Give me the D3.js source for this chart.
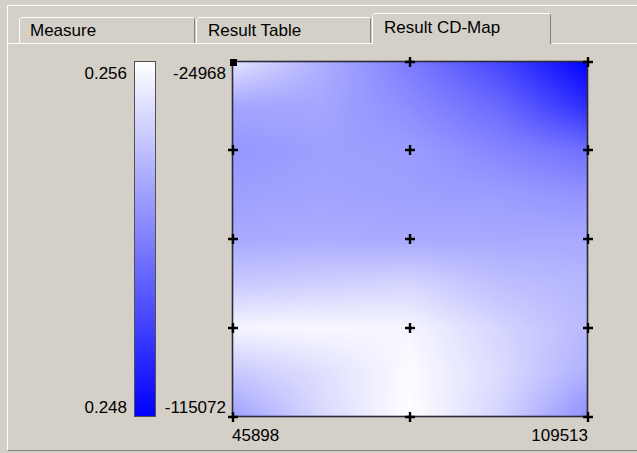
<!DOCTYPE html>
<html><head><meta charset="utf-8">
<script src="https://cdn.jsdelivr.net/npm/d3@7"></script>
<style>
html,body{margin:0;padding:0;background:#d4d0c8;overflow:hidden;}
svg{display:block;}
text{font-family:"Liberation Sans",Arial,sans-serif;font-size:17px;fill:#000;}
</style></head>
<body>
<svg id="chart" width="637" height="453"></svg>
<script>
// ---- data ----
const tabs = ["Measure", "Result Table", "Result CD-Map"];
const colorDomain = [0.248, 0.256];
const colorLabels = ["0.256", "0.248"];
const xDomain = [45898, 109513];
const yDomain = [-24968, -115072];
const xLabels = ["45898", "109513"];
const yLabels = ["-24968", "-115072"];
// grid sample positions
const gridX = [45898, 61801.75, 77705.5, 93609.25, 109513];
const gridY = [-24968, -36231, -47494, -58757, -70020, -81283, -92546, -103809, -115072];
// measured points (crosses)
const pointX = [45898, 77705.5, 109513];
const pointY = [-24968, -47494, -70020, -92546, -115072];
// values on grid (rows top->bottom, cols left->right)
const row0 = [0.2552, 0.2535, 0.2519, 0.2502, 0.2480];
const row1 = [0.2532, 0.2532, 0.2524, 0.2513, 0.2494];
const row2 = [0.2527, 0.2530, 0.2529, 0.2522, 0.2515];
const row3 = [0.2530, 0.2531, 0.2530, 0.2529, 0.2526];
const row4 = [0.2533, 0.2534, 0.2533, 0.2533, 0.2533];
const row5 = [0.2543, 0.2545, 0.2547, 0.2540, 0.2537];
const row6 = [0.2557, 0.2558, 0.2557, 0.2547, 0.2538];
const row7 = [0.2543, 0.2550, 0.2559, 0.2549, 0.2535];
const row8 = [0.2530, 0.2548, 0.2560, 0.2547, 0.2525];
const grid = [row0, row1, row2, row3, row4, row5, row6, row7, row8];

// ---- drawing ----
const svg = d3.select("#chart");
const W = 637, H = 453;

// outer frame
svg.append("line").attr("x1", 7.5).attr("x2", W).attr("y1", 5.5).attr("y2", 5.5).attr("stroke", "#ffffff");
svg.append("line").attr("x1", 7.5).attr("x2", 7.5).attr("y1", 5.5).attr("y2", 451).attr("stroke", "#ffffff");
svg.append("line").attr("x1", 7.5).attr("x2", W).attr("y1", 450.5).attr("y2", 450.5).attr("stroke", "#808080");

// tabs
const tabDefs = [
  {x0: 19, x1: 196, top: 17, textX: 30, base: 36},
  {x0: 196, x1: 372, top: 17, textX: 208, base: 36},
  {x0: 372, x1: 552, top: 13, textX: 384, base: 33}
];
svg.append("line").attr("x1", 7.5).attr("x2", 372.5).attr("y1", 43.5).attr("y2", 43.5).attr("stroke", "#ffffff");
svg.append("line").attr("x1", 552).attr("x2", W).attr("y1", 43.5).attr("y2", 43.5).attr("stroke", "#ffffff");
tabDefs.forEach((t, i) => {
  const g = svg.append("g");
  const bottom = i === 2 ? 44 : 43;
  g.append("rect").attr("x", t.x0).attr("y", t.top).attr("width", t.x1 - t.x0).attr("height", bottom - t.top).attr("fill", "#d4d0c8");
  g.append("path").attr("d", `M${t.x0 + 0.5},${bottom}V${t.top + 2.5}l2,-2H${t.x1 - 2.5}`).attr("fill", "none").attr("stroke", "#ffffff");
  g.append("path").attr("d", `M${t.x1 - 1.5},${t.top + 1.5}V${bottom}`).attr("fill", "none").attr("stroke", "#808080");
  g.append("text").attr("x", t.textX).attr("y", t.base).text(tabs[i]);
});

// scales
const x0 = 232.5, x1 = 587.5, y0 = 61.5, y1 = 416.5;
const xScale = d3.scaleLinear().domain(xDomain).range([x0, x1]);
const yScale = d3.scaleLinear().domain(yDomain).range([y0, y1]);
const color = d3.scaleLinear().domain(colorDomain).range(["#0000ff", "#ffffff"]).clamp(true);

// heat map raster (bilinear shading between grid samples)
const mw = Math.round(x1 - x0), mh = Math.round(y1 - y0);
const canvas = document.createElement("canvas");
canvas.width = mw; canvas.height = mh;
const ctx = canvas.getContext("2d");
const img = ctx.createImageData(mw, mh);
const gx = d3.scaleLinear().domain(gridX.map(v => xScale(v) - x0)).range(d3.range(gridX.length)).clamp(true);
const gy = d3.scaleLinear().domain(gridY.map(v => yScale(v) - y0)).range(d3.range(gridY.length)).clamp(true);
for (let py = 0; py < mh; py++) {
  const fy = gy(py + 0.5);
  const r = Math.min(Math.floor(fy), gridY.length - 2), ty = fy - r;
  for (let px = 0; px < mw; px++) {
    const fx = gx(px + 0.5);
    const c = Math.min(Math.floor(fx), gridX.length - 2), tx = fx - c;
    const v = (grid[r][c] * (1 - tx) + grid[r][c + 1] * tx) * (1 - ty) +
              (grid[r + 1][c] * (1 - tx) + grid[r + 1][c + 1] * tx) * ty;
    const col = d3.rgb(color(v));
    const k = (py * mw + px) * 4;
    img.data[k] = col.r; img.data[k + 1] = col.g; img.data[k + 2] = col.b; img.data[k + 3] = 255;
  }
}
ctx.putImageData(img, 0, 0);
svg.append("image").attr("x", x0).attr("y", y0).attr("width", mw).attr("height", mh)
  .attr("preserveAspectRatio", "none").attr("href", canvas.toDataURL());

// map border
svg.append("rect").attr("x", x0).attr("y", y0).attr("width", x1 - x0).attr("height", y1 - y0)
  .attr("fill", "none").attr("stroke", "#2a2a3a").attr("stroke-width", 1.6);

// crosses
const pts = [];
pointY.forEach(py => pointX.forEach(px => pts.push([px, py])));
pts.forEach((p, i) => {
  const cx = Math.round(xScale(p[0])), cy = Math.round(yScale(p[1]));
  if (i === 0) {
    svg.append("rect").attr("x", cx - 3).attr("y", cy - 3).attr("width", 7).attr("height", 7).attr("fill", "#000");
  } else {
    svg.append("path").attr("d", `M${cx - 5},${cy}H${cx + 5}M${cx},${cy - 5}V${cy + 5}`)
      .attr("stroke", "#000").attr("stroke-width", 2.4).attr("fill", "none");
  }
});

// axis labels
svg.append("text").attr("x", 226).attr("y", 79).attr("text-anchor", "end").text(yLabels[0]);
svg.append("text").attr("x", 226).attr("y", 413).attr("text-anchor", "end").text(yLabels[1]);
svg.append("text").attr("x", 232).attr("y", 441).attr("text-anchor", "start").text(xLabels[0]);
svg.append("text").attr("x", 588).attr("y", 441).attr("text-anchor", "end").text(xLabels[1]);

// color bar
const defs = svg.append("defs");
const grad = defs.append("linearGradient").attr("id", "cbar").attr("x1", 0).attr("x2", 0).attr("y1", 0).attr("y2", 1);
d3.range(0, 1.0001, 0.1).forEach(t => {
  const v = colorDomain[1] - t * (colorDomain[1] - colorDomain[0]);
  grad.append("stop").attr("offset", t).attr("stop-color", color(v));
});
const cb = d3.scaleLinear().domain([colorDomain[1], colorDomain[0]]).range([61.5, 416.5]);
svg.append("rect").attr("x", 134.5).attr("y", cb(colorDomain[1])).attr("width", 21).attr("height", cb(colorDomain[0]) - cb(colorDomain[1]))
  .attr("fill", "url(#cbar)").attr("stroke", "#505050").attr("stroke-width", 1);
svg.append("text").attr("x", 127).attr("y", 79).attr("text-anchor", "end").text(colorLabels[0]);
svg.append("text").attr("x", 127).attr("y", 413).attr("text-anchor", "end").text(colorLabels[1]);
</script>
</body></html>
